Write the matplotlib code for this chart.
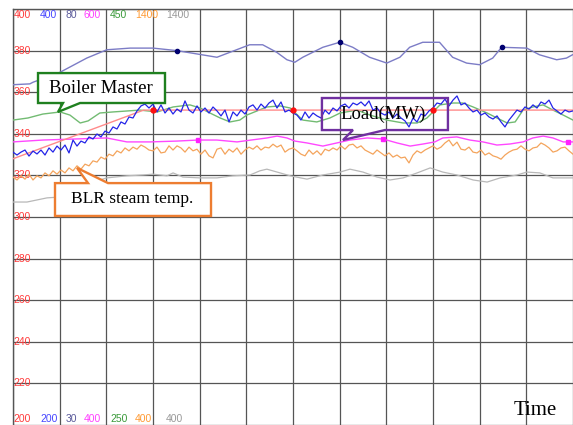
import numpy as np
import matplotlib.pyplot as plt
from matplotlib.patches import Polygon

# -----------------------------
# Data (each series in its own units, time in grid divisions 0..12)
# -----------------------------
# red: load set point, 200-400 scale
red_t = [0, 2.8, 3, 6, 9, 12]
red_v = [328, 351.4, 351.4, 351.4, 351.4, 351.4]
red_marks = [2, 3, 4]

# blue: load (MW), 200-400 scale, evenly sampled over the window
blue_v = [
    331.2, 329.8, 331.2, 332.2, 329.3, 331.7, 330.3, 332.2, 329.8, 333.2,
    331.2, 334.1, 332.2, 334.6, 330.8, 337.0, 334.1, 336.5, 335.6, 338.5,
    337.5, 339.9, 338.5, 341.3, 340.4, 343.3, 342.3, 345.7, 344.7, 348.1,
    347.6, 351.0, 353.4, 354.3, 352.4, 354.3, 350.5, 353.9, 350.0, 352.4,
    349.5, 351.9, 350.5, 355.8, 351.4, 350.0, 353.4, 350.5, 352.4, 350.0,
    352.9, 351.0, 348.6, 351.4, 345.7, 350.5, 348.6, 351.4, 349.5, 352.9,
    353.9, 351.4, 354.3, 352.4, 354.8, 356.2, 352.4, 355.3, 350.5, 351.4,
    350.0, 349.0, 346.6, 350.5, 347.6, 350.0, 348.6, 347.6, 351.4, 349.5,
    352.4, 351.0, 353.4, 354.3, 352.4, 354.8, 353.9, 355.3, 353.4, 355.8,
    351.4, 352.4, 350.0, 349.0, 350.5, 347.6, 349.5, 347.6, 346.2, 343.3,
    347.6, 345.7, 349.5, 348.6, 351.0, 352.4, 354.8, 354.3, 356.7, 353.4,
    356.2, 358.2, 353.9, 354.8, 352.4, 350.5, 351.4, 349.0, 350.0, 348.1,
    347.1, 348.6, 345.7, 343.3, 346.6, 349.0, 351.4, 350.5, 352.9, 351.9,
    353.9, 352.4, 355.3, 354.3, 356.2, 352.4, 351.0, 349.5, 351.4, 350.5,
    351.0,
]

# slate: 30-80 scale
slate_t = [0, 0.36, 0.43, 1.01, 1.58, 2.01, 2.51, 3.0, 3.51, 4.37,
           4.65, 5.07, 5.35, 5.65, 5.87, 6.04, 6.21, 6.64, 7.0, 7.28,
           7.64, 8.01, 8.29, 8.5, 8.78, 9.14, 9.42, 9.72, 10.0, 10.28,
           10.47, 11.01, 11.28, 11.65, 11.86, 11.99]
slate_v = [70.9, 71.0, 71.2, 72.4, 74.1, 75.1, 75.3, 75.3, 75.0, 74.2,
           74.8, 75.7, 75.7, 74.8, 73.9, 73.6, 74.2, 75.4, 76.0, 75.4,
           74.2, 73.5, 74.2, 75.4, 76.0, 76.0, 74.2, 73.5, 73.3, 74.1,
           75.4, 75.3, 74.5, 73.9, 74.1, 74.5]
slate_marks = [8, 18, 30]

# magenta: 400-600 scale
magenta_t = [0, 0.64, 2.01, 2.44, 2.94, 3.51, 3.96, 4.37, 4.8, 5.44,
             5.66, 5.87, 6.04, 6.3, 6.64, 6.94, 7.22, 7.59, 7.93, 8.23,
             8.51, 8.79, 9.04, 9.21, 9.51, 9.79, 10.07, 10.37, 10.65, 10.93,
             11.14, 11.36, 11.57, 11.79, 11.89, 12.0]
magenta_v = [536.1, 537.0, 538.0, 536.1, 536.1, 536.5, 537.0, 537.0, 536.1, 538.0,
             538.9, 538.0, 536.5, 535.6, 534.1, 535.6, 537.0, 538.0, 537.5, 535.6,
             534.1, 535.1, 536.1, 538.0, 538.5, 537.0, 536.1, 534.6, 535.1, 536.1,
             538.0, 538.9, 538.0, 536.1, 536.1, 536.1]
magenta_marks = [6, 18, 34]

# green: boiler master, 250-450 scale
green_t = [0, 0.32, 0.64, 1.01, 1.22, 1.44, 1.61, 1.86, 2.14, 2.72,
           3.09, 3.43, 3.79, 4.01, 4.22, 4.44, 4.65, 4.86, 5.01, 5.44,
           5.72, 5.94, 6.21, 6.51, 6.79, 7.01, 7.37, 7.65, 8.01, 8.36,
           8.66, 8.87, 9.04, 9.15, 9.43, 9.64, 9.86, 10.16, 10.37, 10.59,
           10.76, 10.93, 11.14, 11.36, 11.57, 11.79, 12.0]
green_v = [396.6, 397.6, 399.5, 400.5, 399.0, 395.2, 396.2, 400.0, 400.5, 401.4,
           400.5, 402.9, 403.9, 402.4, 400.0, 397.6, 395.7, 396.6, 399.0, 402.9,
           403.4, 402.4, 396.6, 395.7, 397.6, 400.0, 401.4, 399.0, 396.6, 395.2,
           395.2, 397.6, 401.4, 403.9, 404.8, 404.8, 402.9, 400.0, 397.6, 395.2,
           395.7, 401.4, 402.9, 403.9, 401.4, 399.0, 396.6]

# orange: BLR steam temp, 400-1400 scale, evenly sampled
orange_v = [
    996, 989, 999, 991, 1003, 989, 999, 994, 1006, 999,
    1011, 1003, 1013, 1006, 1018, 1011, 1023, 1015, 1027, 1023,
    1035, 1032, 1044, 1039, 1051, 1047, 1059, 1054, 1066, 1059,
    1068, 1063, 1073, 1068, 1061, 1059, 1068, 1054, 1056, 1071,
    1061, 1071, 1066, 1056, 1068, 1059, 1063, 1051, 1061, 1047,
    1042, 1063, 1066, 1051, 1063, 1056, 1066, 1051, 1061, 1068,
    1063, 1071, 1061, 1068, 1066, 1075, 1068, 1073, 1056, 1063,
    1066, 1059, 1051, 1047, 1061, 1051, 1059, 1049, 1063, 1059,
    1066, 1061, 1071, 1063, 1073, 1075, 1066, 1071, 1061, 1056,
    1051, 1061, 1054, 1047, 1054, 1044, 1049, 1042, 1044, 1030,
    1049, 1059, 1054, 1061, 1066, 1071, 1063, 1068, 1078, 1085,
    1071, 1080, 1063, 1061, 1068, 1056, 1054, 1061, 1049, 1054,
    1047, 1044, 1039, 1049, 1056, 1061, 1063, 1071, 1063, 1059,
    1066, 1068, 1078, 1073, 1066, 1056, 1059, 1066, 1068, 1059,
    1051,
]

# gray: 400-1400 scale
gray_t = [0, 0.3, 0.73, 1.01, 1.16, 1.37, 1.59, 1.86, 2.01, 2.44,
          2.79, 3.0, 3.3, 3.43, 3.64, 4.01, 4.37, 4.71, 5.08, 5.29,
          5.44, 5.66, 5.94, 6.3, 6.64, 7.01, 7.22, 7.5, 7.8, 8.08,
          8.36, 8.66, 8.94, 9.21, 9.51, 9.86, 10.16, 10.44, 10.8, 11.01,
          11.29, 11.57, 12.0]
gray_v = [936, 936, 946, 948, 958, 965, 977, 989, 994, 999,
          1001, 1003, 999, 1006, 996, 994, 994, 999, 1001, 1011,
          1015, 1008, 999, 991, 1001, 1008, 1015, 1008, 996, 989,
          994, 1006, 1018, 1008, 1001, 989, 984, 994, 1001, 1008,
          1006, 994, 994]

# scale labels (top row = max, bottom row = min)
scale_top = ["400", "400", "80", "600", "450", "1400", "1400"]
scale_bottom = ["200", "200", "30", "400", "250", "400", "400"]
scale_colors = ["#ff3b3b", "#4646ff", "#5a5a9a", "#ff40ff", "#3a9a3a", "#ff9a33", "#999999"]
y_ticks = [380, 360, 340, 320, 300, 280, 260, 240, 220]

# -----------------------------
# Figure / base grid
# -----------------------------
fig = plt.figure(figsize=(5.73, 4.25), dpi=100)
ax = fig.add_axes([13 / 573, 0, 560 / 573, 416 / 425])
ax.set_xlim(0, 12)
ax.set_ylim(200, 400)
ax.set_xticks(np.arange(0, 13, 1))
ax.set_yticks(np.arange(200, 401, 20))
ax.grid(True, color="#555555", lw=0.9)
ax.tick_params(length=0, labelleft=False, labelbottom=False)
for side in ["right", "bottom"]:
    ax.spines[side].set_visible(False)
for side in ["left", "top"]:
    ax.spines[side].set_color("#555555")
    ax.spines[side].set_linewidth(1.0)

num_font = dict(family="Liberation Sans", fontsize=7.5)
label_x = [0.02, 0.58, 1.12, 1.52, 2.08, 2.61, 3.28]
for x, top, bot, c in zip(label_x, scale_top, scale_bottom, scale_colors):
    ax.text(x, 397.1, top, color=c, va="center", ha="left", **num_font)
    ax.text(x, 203.0, bot, color=c, va="center", ha="left", **num_font)
for v in y_ticks:
    ax.text(0.02, v, str(v), color=scale_colors[0], va="center", ha="left", **num_font)


def twin(lo, hi):
    t = ax.twinx()
    t.set_ylim(lo, hi)
    t.set_xlim(0, 12)
    t.axis("off")
    return t


# -----------------------------
# Series
# -----------------------------
ax_o = twin(400, 1400)
ax_o.plot(gray_t, gray_v, color="#b8b8b8", lw=0.9)
ax_o.plot(np.linspace(0, 12, len(orange_v)), orange_v, color="#f4a45c", lw=0.9)

ax_s = twin(30, 80)
ax_s.plot(slate_t, slate_v, color="#7c7cc6", lw=1.0)
ax_s.plot(np.array(slate_t)[slate_marks], np.array(slate_v)[slate_marks],
          "o", color="#000070", ms=3)

ax_m = twin(400, 600)
ax_m.plot(magenta_t, magenta_v, color="#ff48ff", lw=1.0)
ax_m.plot(np.array(magenta_t)[magenta_marks], np.array(magenta_v)[magenta_marks],
          "s", color="#ff20ff", ms=3.5)

ax_g = twin(250, 450)
ax_g.plot(green_t, green_v, color="#72bb72", lw=1.0)

ax_b = twin(200, 400)
ax_b.plot(red_t, red_v, color="#ff8a8a", lw=1.0)
ax_b.plot(np.linspace(0, 12, len(blue_v)), blue_v, color="#2424e8", lw=0.9)
ax_b.plot(np.array(red_t)[red_marks], np.array(red_v)[red_marks],
          "o", color="#ff1010", ms=3.5)

# -----------------------------
# Callouts
# -----------------------------
serif = "Liberation Serif"


def callout(pts, color, fill):
    fig.add_artist(Polygon(pts, closed=True, transform=ax.transData,
                           facecolor=fill, edgecolor=color, lw=1.7,
                           joinstyle="miter", zorder=5))


callout([(0.536, 369.2), (3.257, 369.2), (3.257, 354.8), (1.436, 354.8),
         (0.964, 350.5), (1.071, 354.8), (0.536, 354.8)], "#1f801f", "white")
fig.text(1.886, 362.0, "Boiler Master", transform=ax.transData, family=serif,
         fontsize=13.5, ha="center", va="center", zorder=6)

callout([(6.62, 357.2), (9.32, 357.2), (9.32, 341.8), (7.97, 341.8),
         (7.07, 337.0), (7.285, 341.8), (6.62, 341.8)], "#7030a0", "none")
fig.text(7.93, 349.3, "Load(MW)", transform=ax.transData, family=serif,
         fontsize=13.5, ha="center", va="center", zorder=6)

callout([(0.9, 316.3), (1.607, 316.3), (1.371, 323.6), (2.036, 316.3),
         (4.243, 316.3), (4.243, 300.5), (0.9, 300.5)], "#ed7d31", "white")
fig.text(2.55, 308.5, "BLR steam temp.", transform=ax.transData, family=serif,
         fontsize=12.5, ha="center", va="center", zorder=6)

fig.text(11.19, 207.0, "Time", transform=ax.transData, family=serif,
         fontsize=15, ha="center", va="center", zorder=6)

fig.savefig("out.png", dpi=100)
